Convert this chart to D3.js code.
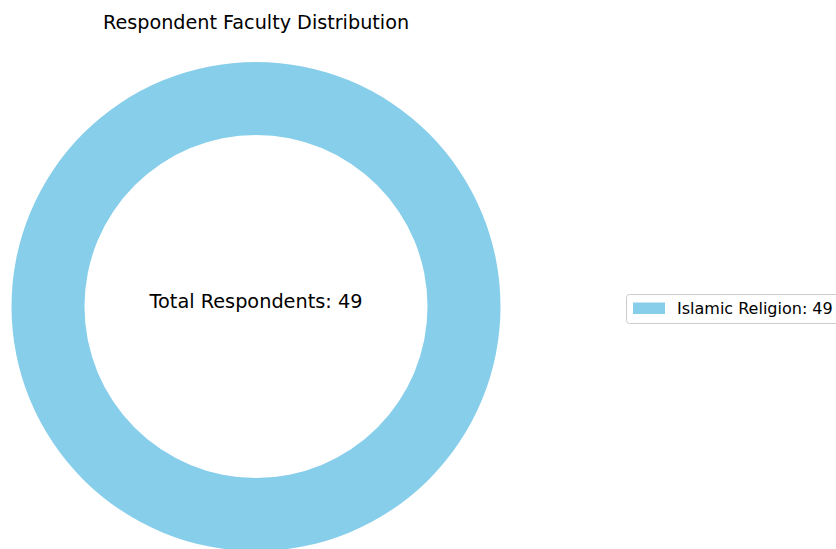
<!DOCTYPE html>
<html><head><meta charset="utf-8">
<script src="https://cdn.jsdelivr.net/npm/d3@7/dist/d3.min.js"></script>
<style>body{margin:0;background:#fff;}svg{display:block;}</style>
</head><body>
<svg id="c" width="836" height="549"></svg>
<script>
const categories = ["Islamic Religion"];
const values = [49];
const colors = ["#87CEEB"];
const title = "Respondent Faculty Distribution";
const total = d3.sum(values);

const svg = d3.select("#c");
const font = "DejaVu Sans, sans-serif";
const cx = 256, cy = 306.5, outerR = 244.5, innerR = 171.5;

const pie = d3.pie().sort(null).startAngle(0).endAngle(2*Math.PI);
const arc = d3.arc().innerRadius(innerR).outerRadius(outerR);
const g = svg.append("g").attr("transform", `translate(${cx},${cy})`);
g.selectAll("path").data(pie(values)).join("path")
  .attr("d", arc).attr("fill", (d,i) => colors[i]);

g.append("text").attr("text-anchor","middle").attr("y", -5).attr("dy","0.35em")
  .attr("font-family", font).attr("font-size", 19.3).attr("fill","#000")
  .text(`Total Respondents: ${total}`);

svg.append("text").attr("x", 256).attr("y", 29).attr("text-anchor","middle")
  .attr("font-family", font).attr("font-size", 19.2).attr("fill","#000")
  .text(title);

const lg = svg.append("g").attr("transform","translate(626,294)");
lg.append("rect").attr("x",0.5).attr("y",0.5).attr("width",240).attr("height",29)
  .attr("rx",3).attr("fill","#fff").attr("fill-opacity",0.8).attr("stroke","#cccccc");
categories.forEach((c,i) => {
  lg.append("rect").attr("x",7).attr("y",8.5+i*20).attr("width",32).attr("height",11.5).attr("fill",colors[i]);
  lg.append("text").attr("x",51).attr("y",14.5+i*20).attr("dy","0.35em")
    .attr("font-family",font).attr("font-size",16).attr("fill","#000")
    .text(`${c}: ${values[i]}`);
});
</script>
</body></html>
